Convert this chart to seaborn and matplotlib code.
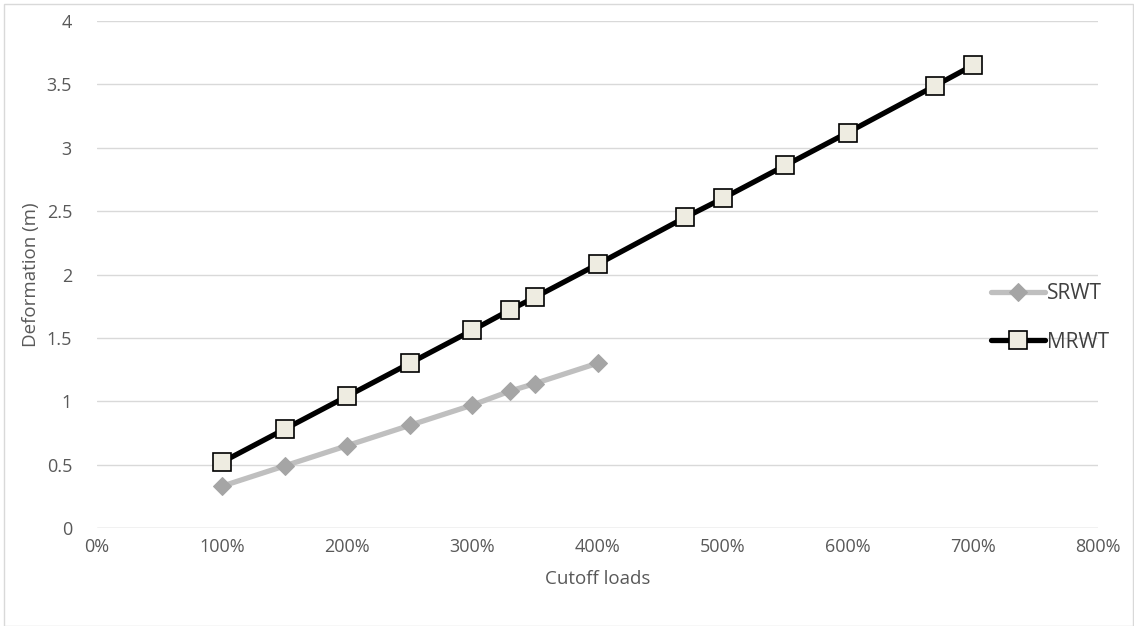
import pandas as pd
import matplotlib.pyplot as plt
import seaborn as sns
from matplotlib.ticker import PercentFormatter
from matplotlib.patches import Rectangle

sns.set_theme(style="white")
plt.rcParams['font.family'] = ['Open Sans', 'DejaVu Sans']

# Data
srwt_loads = [100, 150, 200, 250, 300, 330, 350, 400]
srwt_deform = [0.33, 0.49, 0.65, 0.81, 0.97, 1.08, 1.14, 1.30]

mrwt_loads = [100, 150, 200, 250, 300, 330, 350, 400, 470, 500, 550, 600, 670, 700]
mrwt_deform = [0.52, 0.78, 1.04, 1.30, 1.56, 1.72, 1.82, 2.08, 2.45, 2.60, 2.86, 3.12, 3.49, 3.65]

x_ticks = [0, 100, 200, 300, 400, 500, 600, 700, 800]
y_ticks = [0, 0.5, 1, 1.5, 2, 2.5, 3, 3.5, 4]
y_labels = ['0', '0.5', '1', '1.5', '2', '2.5', '3', '3.5', '4']

srwt = pd.DataFrame({'load': srwt_loads, 'deform': srwt_deform})
mrwt = pd.DataFrame({'load': mrwt_loads, 'deform': mrwt_deform})

fig = plt.figure(figsize=(11.34, 6.26), dpi=100)
ax = fig.add_axes([97 / 1134, 1 - 528 / 626, (1098 - 97) / 1134, (528 - 21) / 626])

text_color = '#595959'
grid_color = '#d9d9d9'

sns.lineplot(data=srwt, x='load', y='deform', ax=ax, color='#bfbfbf', linewidth=3.8,
             marker='D', markersize=9, markerfacecolor='#a5a5a5', markeredgecolor='#a5a5a5',
             label='SRWT', zorder=3)
sns.lineplot(data=mrwt, x='load', y='deform', ax=ax, color='black', linewidth=3.8,
             marker='s', markersize=13, markerfacecolor='#eeece1', markeredgecolor='black',
             markeredgewidth=1.2, label='MRWT', zorder=4)

ax.set_xlim(0, 800)
ax.set_ylim(0, 4)
ax.set_xticks(x_ticks)
ax.xaxis.set_major_formatter(PercentFormatter(decimals=0))
ax.set_yticks(y_ticks)
ax.set_yticklabels(y_labels)
ax.yaxis.grid(True, color=grid_color, linewidth=1)
ax.set_axisbelow(True)
for s in ax.spines.values():
    s.set_visible(False)
ax.axhline(0, color=grid_color, linewidth=1, zorder=1)
ax.tick_params(axis='both', length=0, labelsize=13, labelcolor=text_color)
ax.tick_params(axis='x', pad=7)
ax.tick_params(axis='y', pad=18)

ax.set_xlabel('Cutoff loads', fontsize=13.5, color=text_color, labelpad=10)
ax.set_ylabel('Deformation (m)', fontsize=13.5, color=text_color, labelpad=5)

leg = ax.legend(loc='center left', bbox_to_anchor=(972 / 1134, 1 - 318 / 626),
                bbox_transform=fig.transFigure, frameon=False, fontsize=15,
                handlelength=2.6, handletextpad=0.1, labelspacing=1.3)
for t in leg.get_texts():
    t.set_color('#404040')

fig.patches.append(Rectangle((4 / 1134, 0), 1 - 5 / 1134, 1 - 4 / 626, transform=fig.transFigure,
                             fill=False, edgecolor=grid_color, linewidth=1))

fig.savefig('out.png', dpi=100)
